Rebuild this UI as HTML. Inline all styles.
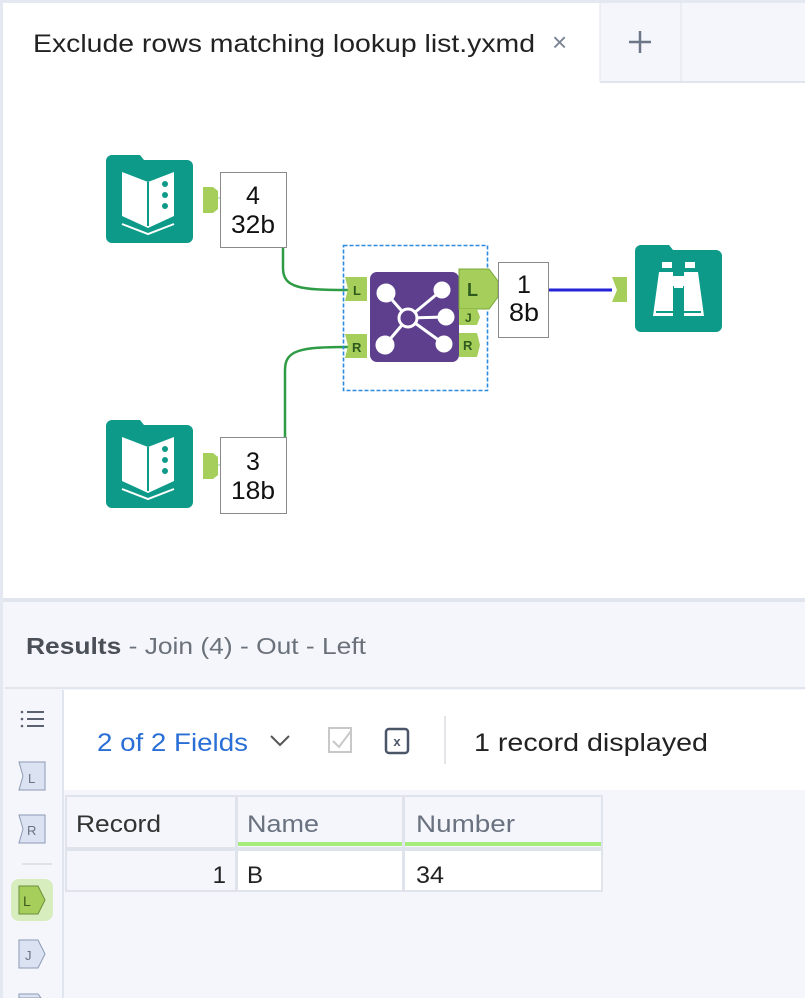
<!DOCTYPE html>
<html><head><meta charset="utf-8"><style>
body{margin:0;width:805px;height:998px;overflow:hidden;background:#fff;font-family:"Liberation Sans",sans-serif;position:relative}
.a{position:absolute}
</style></head><body>
<svg class="a" style="left:0;top:0" width="805" height="998" xmlns="http://www.w3.org/2000/svg" font-family="Liberation Sans, sans-serif">
<rect x="0" y="0" width="805" height="998" fill="#fff"/>
<rect x="0" y="0" width="805" height="3" fill="#e3e8f1"/>
<rect x="0" y="0" width="3" height="998" fill="#e3e8f1"/>
<rect x="600" y="3" width="205" height="79" fill="#f4f6fb"/>
<line x1="600" y1="3" x2="600" y2="82" stroke="#dfe4ed"/>
<line x1="681" y1="3" x2="681" y2="82" stroke="#dfe4ed"/>
<line x1="600" y1="82" x2="805" y2="82" stroke="#dfe4ed" stroke-width="2"/>
<text x="33" y="52" font-size="25" fill="#222" textLength="502" lengthAdjust="spacingAndGlyphs">Exclude rows matching lookup list.yxmd</text>
<text x="552" y="51" font-size="26" fill="#7a8494">×</text>
<path d="M629 42h22M640 31v22" stroke="#6d7686" stroke-width="2.5"/>
<!-- connectors -->
<path d="M214 198 C 260 198, 283 196, 283 225 L283 268 C283 288,300 290,345 290" fill="none" stroke="#c8e6c9" stroke-width="2"/>
<path d="M283 248 L283 268 C283 288,300 290,348 290" fill="none" stroke="#2e9b45" stroke-width="2.5"/>
<path d="M214 465 C 260 465, 285 465, 285 440" fill="none" stroke="#c8e6c9" stroke-width="2"/>
<path d="M285 437 L285 370 C285 350,300 347,348 347" fill="none" stroke="#2e9b45" stroke-width="2.5"/>
<line x1="549" y1="290" x2="612" y2="290" stroke="#2323d8" stroke-width="3"/>
<!-- input icons -->
<g id="bk">
<path d="M112 155h28l4 5h43a6 6 0 0 1 6 6v71a6 6 0 0 1-6 6h-75a6 6 0 0 1-6-6v-76a6 6 0 0 1 6-6z" fill="#0e9a88"/>
<path d="M122 172l26 10 26-10v44l-26 12-26-12z" fill="#fff"/>
<line x1="148" y1="182" x2="148" y2="226" stroke="#0e9a88" stroke-width="2"/>
<circle cx="165" cy="184" r="3" fill="#0e9a88"/><circle cx="165" cy="195" r="3" fill="#0e9a88"/><circle cx="165" cy="206" r="3" fill="#0e9a88"/>
<path d="M122 224l26 10 26-10" fill="none" stroke="#fff" stroke-width="2"/>
</g>
<use href="#bk" transform="translate(0,265)"/>
<path d="M203 187h10l5 4v18l-5 4h-10z" fill="#a6ce5a"/>
<path d="M203 453h10l5 4v18l-5 4h-10z" fill="#a6ce5a"/>
<rect x="220.5" y="172.5" width="66" height="75" fill="#fff" stroke="#8a8a8a"/>
<text x="253" y="204" font-size="25" text-anchor="middle" fill="#111">4</text>
<text x="253" y="233" font-size="25" text-anchor="middle" fill="#111" textLength="44" lengthAdjust="spacingAndGlyphs">32b</text>
<rect x="220.5" y="437.5" width="66" height="76" fill="#fff" stroke="#8a8a8a"/>
<text x="253" y="470" font-size="25" text-anchor="middle" fill="#111">3</text>
<text x="253" y="499" font-size="25" text-anchor="middle" fill="#111" textLength="44" lengthAdjust="spacingAndGlyphs">18b</text>
<!-- join -->
<rect x="343.5" y="245.5" width="144" height="145" fill="none" stroke="#2b8be0" stroke-width="1.6" stroke-dasharray="4,2"/>
<path d="M345 277h22v24h-22l3-12z" fill="#a6ce5a"/>
<text x="353" y="295" font-size="13" font-weight="bold" fill="#2f5a1e">L</text>
<path d="M345 334h22v24h-22l3-12z" fill="#a6ce5a"/>
<text x="352" y="352" font-size="13" font-weight="bold" fill="#2f5a1e">R</text>
<rect x="370" y="272" width="89" height="90" rx="7" fill="#5d3f8e"/>
<g stroke="#fff" stroke-width="3" fill="#fff">
<line x1="408" y1="318" x2="386" y2="293"/><line x1="408" y1="318" x2="442" y2="290"/>
<line x1="408" y1="318" x2="446" y2="317"/><line x1="408" y1="318" x2="385" y2="345"/><line x1="408" y1="318" x2="444" y2="344"/>
<circle cx="386" cy="293" r="8"/><circle cx="442" cy="290" r="7"/><circle cx="446" cy="317" r="7"/><circle cx="385" cy="345" r="8"/><circle cx="444" cy="344" r="7"/>
<circle cx="408" cy="318" r="9" fill="#5d3f8e"/>
</g>
<path d="M459 269h30l9 12v16l-9 12h-30z" fill="#a6ce5a" stroke="#79a83a"/>
<text x="467" y="296" font-size="18" font-weight="bold" fill="#2f5a1e">L</text>
<path d="M459 309h18l3 8-3 8h-18z" fill="#a6ce5a"/>
<text x="465" y="322" font-size="12" font-weight="bold" fill="#2f5a1e">J</text>
<path d="M459 333h18l3 12-3 12h-18z" fill="#a6ce5a"/>
<text x="463" y="350" font-size="13" font-weight="bold" fill="#2f5a1e">R</text>
<rect x="498.5" y="262.5" width="50" height="75" fill="#fff" stroke="#8a8a8a"/>
<text x="524" y="293" font-size="25" text-anchor="middle" fill="#111">1</text>
<text x="524" y="321" font-size="25" text-anchor="middle" fill="#111" textLength="30" lengthAdjust="spacingAndGlyphs">8b</text>
<!-- browse -->
<path d="M612 277h15v25h-15l5-12z" fill="#a6ce5a"/>
<path d="M641 245h28l4 5h43a6 6 0 0 1 6 6v70a6 6 0 0 1-6 6h-75a6 6 0 0 1-6-6v-75a6 6 0 0 1 6-6z" fill="#0e9a88"/>
<g fill="#fff"><rect x="662" y="262" width="10" height="6"/><rect x="685" y="262" width="10" height="6"/>
<path d="M659 272h14v4h4v10h-4v30h-20z"/><path d="M698 272h-14v4h-4v10h4v30h20z"/>
<rect x="674" y="276" width="9" height="12"/></g>
<path d="M656 312h19M682 312h19" stroke="#0e9a88" stroke-width="2"/>
<!-- results panel -->
<rect x="3" y="598" width="802" height="400" fill="#f4f6fb"/>
<rect x="3" y="598" width="802" height="4" fill="#e0e5ee"/>
<text x="26" y="654" font-size="23" fill="#4a4f58" textLength="340" lengthAdjust="spacingAndGlyphs"><tspan font-weight="bold">Results</tspan><tspan fill="#6b717b"> - Join (4) - Out - Left</tspan></text>
<line x1="5" y1="688" x2="805" y2="688" stroke="#e0e5ee" stroke-width="2"/>
<line x1="63" y1="690" x2="63" y2="998" stroke="#e0e5ee" stroke-width="2"/>
<rect x="64" y="690" width="741" height="100" fill="#fff"/>
<text x="97" y="751" font-size="25" fill="#2a6fd6" textLength="151" lengthAdjust="spacingAndGlyphs">2 of 2 Fields</text>
<path d="M271 736l9 9 9-9" fill="none" stroke="#555" stroke-width="2"/>
<rect x="329" y="728" width="22" height="24" fill="none" stroke="#c8c8c8" stroke-width="2"/>
<path d="M333 741l6 6 12-16" fill="none" stroke="#c8c8c8" stroke-width="2"/>
<rect x="386" y="729" width="22" height="24" rx="3" fill="none" stroke="#4a5568" stroke-width="2.5"/>
<text x="397" y="746" font-size="13" font-weight="bold" text-anchor="middle" fill="#4a5568">x</text>
<line x1="445" y1="716" x2="445" y2="764" stroke="#c8ccd4"/>
<text x="474" y="751" font-size="25" fill="#222" textLength="234" lengthAdjust="spacingAndGlyphs">1 record displayed</text>
<!-- sidebar -->
<g stroke="#5a6272" stroke-width="2"><line x1="27" y1="712" x2="44" y2="712"/><line x1="27" y1="719" x2="44" y2="719"/><line x1="27" y1="726" x2="44" y2="726"/></g>
<g fill="#5a6272"><circle cx="22" cy="712" r="1.3"/><circle cx="22" cy="719" r="1.3"/><circle cx="22" cy="726" r="1.3"/></g>
<path d="M19 762h26v28h-26l4-14z" fill="#dbe3f2" stroke="#8d9ab5"/>
<text x="28" y="783" font-size="13" fill="#6a7282">L</text>
<path d="M19 815h26v28h-26l4-14z" fill="#dbe3f2" stroke="#8d9ab5"/>
<text x="27" y="835" font-size="13" fill="#6a7282">R</text>
<line x1="22" y1="864" x2="52" y2="864" stroke="#dde2ea" stroke-width="2"/>
<rect x="11" y="879" width="42" height="42" rx="8" fill="#d7edbd"/>
<path d="M19 886h19l7 14-7 14h-19z" fill="#a6ce5a" stroke="#6c8f3a"/>
<text x="23" y="906" font-size="14" fill="#3d5a1a">L</text>
<path d="M19 940h19l7 14-7 14h-19z" fill="#dbe3f2" stroke="#8d9ab5"/>
<text x="25" y="960" font-size="13" fill="#6a7282">J</text>
<path d="M19 994h19l3 4h-22z" fill="#dbe3f2" stroke="#8d9ab5"/>
<!-- table -->
<g stroke="#dfe4ec" stroke-width="2">
<rect x="66" y="796" width="170" height="52" fill="#f4f6fb"/>
<rect x="237" y="796" width="166" height="52" fill="#f4f6fb"/>
<rect x="404" y="796" width="198" height="52" fill="#f4f6fb"/>
<rect x="66" y="850" width="170" height="41" fill="#f4f6fb"/>
<rect x="237" y="850" width="166" height="41" fill="#fff"/>
<rect x="404" y="850" width="198" height="41" fill="#fff"/>
</g>
<rect x="238" y="842" width="164" height="4" fill="#a4ec7c"/>
<rect x="405" y="842" width="196" height="4" fill="#a4ec7c"/>
<text x="76" y="832" font-size="24" fill="#333" textLength="85" lengthAdjust="spacingAndGlyphs">Record</text>
<text x="247" y="832" font-size="24" fill="#6a7280" textLength="72" lengthAdjust="spacingAndGlyphs">Name</text>
<text x="416" y="832" font-size="24" fill="#6a7280" textLength="99" lengthAdjust="spacingAndGlyphs">Number</text>
<text x="226" y="883" font-size="24" fill="#222" text-anchor="end">1</text>
<text x="247" y="883" font-size="24" fill="#222">B</text>
<text x="416" y="883" font-size="24" fill="#222" textLength="28" lengthAdjust="spacingAndGlyphs">34</text>
</svg>
</body></html>
